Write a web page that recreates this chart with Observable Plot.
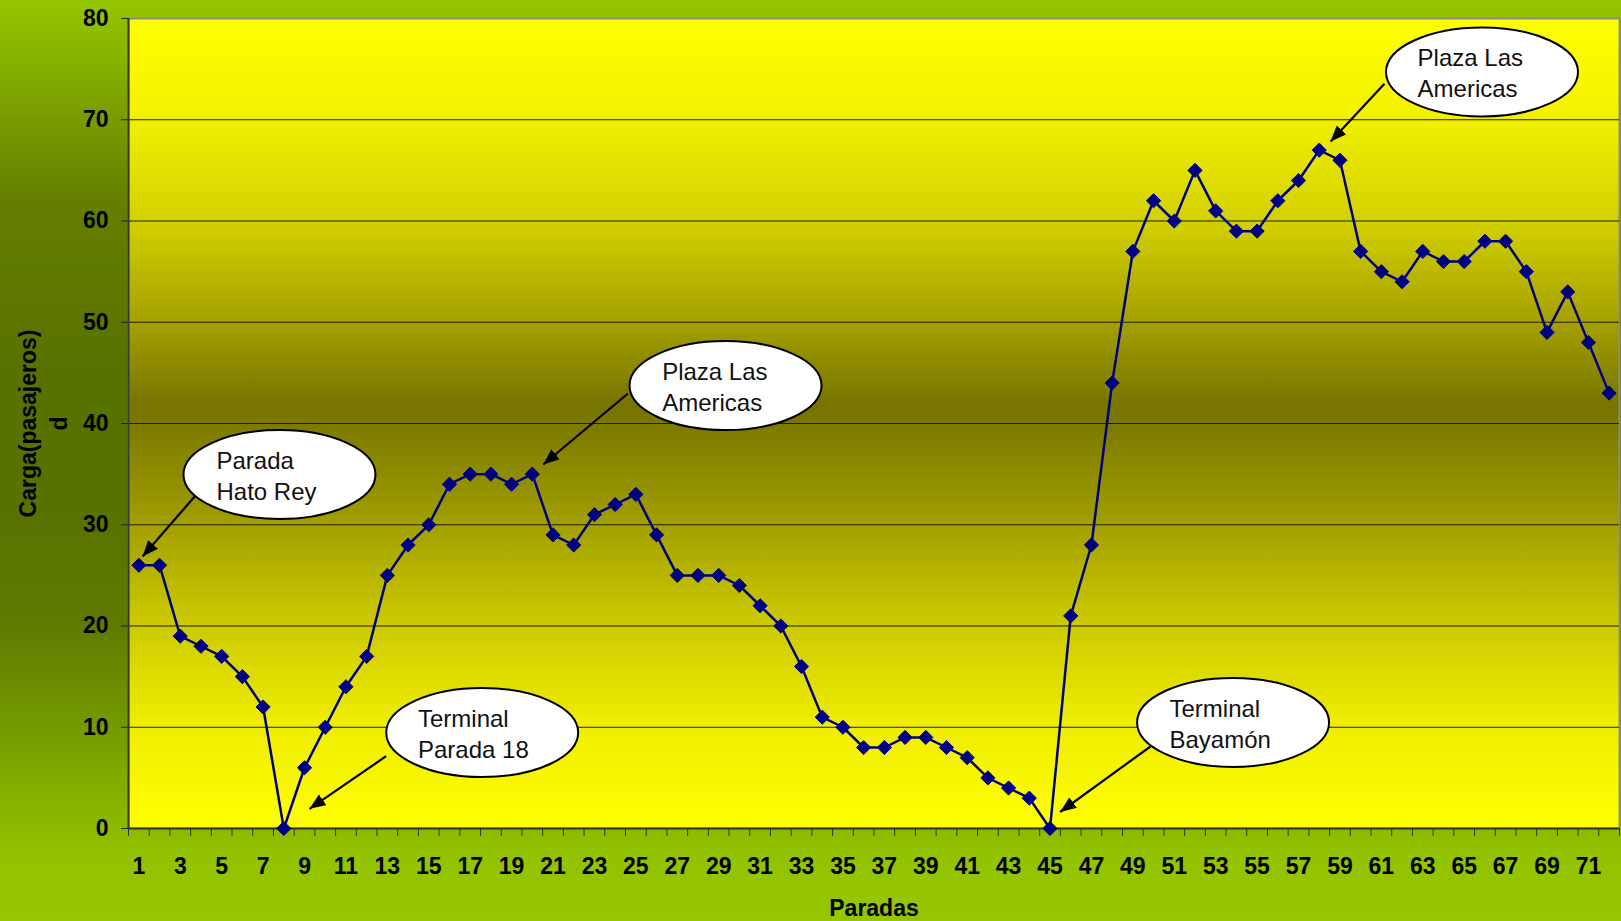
<!DOCTYPE html>
<html>
<head>
<meta charset="utf-8">
<script src="https://cdn.jsdelivr.net/npm/d3@7"></script>
<script src="https://cdn.jsdelivr.net/npm/@observablehq/plot@0.6"></script>
<style>
html, body { margin: 0; padding: 0; width: 1621px; height: 921px; overflow: hidden; }
body {
  background: linear-gradient(to bottom, #96c600 0%, #7fa600 10%, #647f00 22%, #587200 40%, #587200 55%, #5f7b00 68%, #7aa300 82%, #93c300 93%, #96c600 100%);
  font-family: "Liberation Sans", Arial, sans-serif;
  color: #000;
}
#chart svg { display: block; }
</style>
</head>
<body>
<div id="chart"></div>
<script>
// ---- Data ----
const paradas = [1,2,3,4,5,6,7,8,9,10,11,12,13,14,15,16,17,18,19,20,21,22,23,24,25,26,27,28,29,30,31,32,33,34,35,36,37,38,39,40,41,42,43,44,45,46,47,48,49,50,51,52,53,54,55,56,57,58,59,60,61,62,63,64,65,66,67,68,69,70,71,72];
const carga = [26,26,19,18,17,15,12,0,6,10,14,17,25,28,30,34,35,35,34,35,29,28,31,32,33,29,25,25,25,24,22,20,16,11,10,8,8,9,9,8,7,5,4,3,0,21,28,44,57,62,60,65,61,59,59,62,64,67,66,57,55,54,57,56,56,58,58,55,49,53,48,43];
const xTickLabels = [1,3,5,7,9,11,13,15,17,19,21,23,25,27,29,31,33,35,37,39,41,43,45,47,49,51,53,55,57,59,61,63,65,67,69,71];
const yTicks = [0,10,20,30,40,50,60,70,80];
const gridValues = [10,20,30,40,50,60,70];
const xTitle = "Paradas";
const yTitle = "Carga(pasajeros)\nd";

// callouts (in data coordinates)
const calloutLabels = ["Parada\nHato Rey", "Plaza Las\nAmericas", "Terminal\nParada 18", "Terminal\nBayamón", "Plaza Las\nAmericas"];
const calloutCx = [7.79, 29.33, 17.58, 53.84, 65.86];
const calloutCy = [34.96, 43.75, 9.48, 10.47, 74.72];
const calloutTx = [4.75, 26.27, 14.48, 50.77, 62.75];
const arrowX1 = [3.78, 24.62, 12.94, 49.85, 61.15];
const arrowY1 = [32.99, 42.96, 7.14, 8.10, 73.55];
const arrowX2 = [1.18, 20.53, 9.24, 45.49, 58.55];
const arrowY2 = [26.86, 35.95, 1.94, 1.63, 67.85];

const data = paradas.map((p, i) => ({parada: p, carga: carga[i]}));
const callouts = calloutLabels.map((label, i) => ({
  label, cx: calloutCx[i], cy: calloutCy[i], tx: calloutTx[i],
  x1: arrowX1[i], y1: arrowY1[i], x2: arrowX2[i], y2: arrowY2[i]
}));
const boundaries = paradas.map(p => p - 0.5).concat([paradas[paradas.length - 1] + 0.5]);

// ---- Styling helpers ----
const FONT = '"Liberation Sans", Arial, sans-serif';
const plotStops = [
  [0, "#ffff00"], [0.12, "#f3f100"], [0.25, "#d3d000"], [0.37, "#a6a200"],
  [0.48, "#767300"], [0.6, "#9a9700"], [0.74, "#cac700"], [0.87, "#efed00"], [1, "#ffff00"]
];
const defsMark = () => {
  const d = d3.create("svg:defs");
  const g = d.append("linearGradient").attr("id", "plotBg")
    .attr("x1", 0).attr("y1", 0).attr("x2", 0).attr("y2", 1);
  plotStops.forEach(([o, c]) => g.append("stop").attr("offset", o).attr("stop-color", c));
  const m = d.append("marker").attr("id", "ahead")
    .attr("markerUnits", "userSpaceOnUse")
    .attr("markerWidth", 17).attr("markerHeight", 13)
    .attr("refX", 16).attr("refY", 6.5).attr("orient", "auto")
    .attr("viewBox", "0 0 17 13");
  m.append("path").attr("d", "M0,0L16,6.5L0,13Z").attr("fill", "#000");
  return d.node();
};
const ellipseSymbol = {
  draw(ctx) {
    const rx = 96, ry = 44.5, k = 0.5522847;
    ctx.moveTo(rx, 0);
    ctx.bezierCurveTo(rx, k * ry, k * rx, ry, 0, ry);
    ctx.bezierCurveTo(-k * rx, ry, -rx, k * ry, -rx, 0);
    ctx.bezierCurveTo(-rx, -k * ry, -k * rx, -ry, 0, -ry);
    ctx.bezierCurveTo(k * rx, -ry, rx, -k * ry, rx, 0);
    ctx.closePath();
  }
};

const W = 1621, H = 921;
const chart = Plot.plot({
  width: W, height: H,
  marginLeft: 128, marginRight: 2, marginTop: 18, marginBottom: H - 828,
  style: {background: "none", fontFamily: FONT, overflow: "visible"},
  x: {type: "linear", domain: [0.5, 72.5]},
  y: {domain: [0, 80]},
  marks: [
    defsMark,
    Plot.frame({fill: "url(#plotBg)", stroke: "#8c8c8c", strokeWidth: 2}),
    Plot.ruleY(gridValues, {stroke: "#1e1e00", strokeWidth: 1.2}),
    Plot.ruleX([0.5], {stroke: "#3a3a3a", strokeWidth: 2}),
    Plot.ruleY([0], {stroke: "#333", strokeWidth: 2.2}),
    Plot.axisY({ticks: yTicks, tickSize: 7, tickPadding: 13, fontSize: 23, fontWeight: "bold", fontFamily: FONT, label: null, stroke: "#222", fill: "#000"}),
    Plot.axisX({ticks: boundaries, tickSize: 8, tickFormat: () => "", label: null, stroke: "#333"}),
    Plot.axisX({ticks: xTickLabels, tickSize: 0, tickPadding: 29, fontSize: 23, fontWeight: "bold", fontFamily: FONT, label: null, fill: "#000"}),
    Plot.line(data, {x: "parada", y: "carga", stroke: "#000080", strokeWidth: 2.5}),
    Plot.dot(data, {x: "parada", y: "carga", symbol: "diamond2", r: 6.4, fill: "#000080", stroke: "#000080", strokeWidth: 1}),
    Plot.link(callouts, {x1: "x1", y1: "y1", x2: "x2", y2: "y2", stroke: "#000", strokeWidth: 2.2}),
    Plot.dot(callouts, {x: "cx", y: "cy", symbol: ellipseSymbol, r: 1, fill: "#fff", stroke: "#000", strokeWidth: 2}),
    Plot.text(callouts, {x: "tx", y: "cy", text: "label", textAnchor: "start", lineAnchor: "middle", fontSize: 24, lineHeight: 1.28, fill: "#111", fontFamily: FONT}),
    Plot.text([xTitle], {frameAnchor: "bottom", dy: 80, textAnchor: "middle", lineAnchor: "middle", fontSize: 23, fontWeight: "bold", fontFamily: FONT, fill: "#000"}),
    Plot.text([yTitle], {frameAnchor: "left", dx: -86.5, rotate: -90, textAnchor: "middle", lineAnchor: "middle", lineHeight: 1.35, fontSize: 23, fontWeight: "bold", fontFamily: FONT, fill: "#000"})
  ]
});
d3.select(chart).selectAll('g[aria-label="link"] path').attr("marker-end", "url(#ahead)");
document.getElementById("chart").appendChild(chart);
</script>
</body>
</html>
